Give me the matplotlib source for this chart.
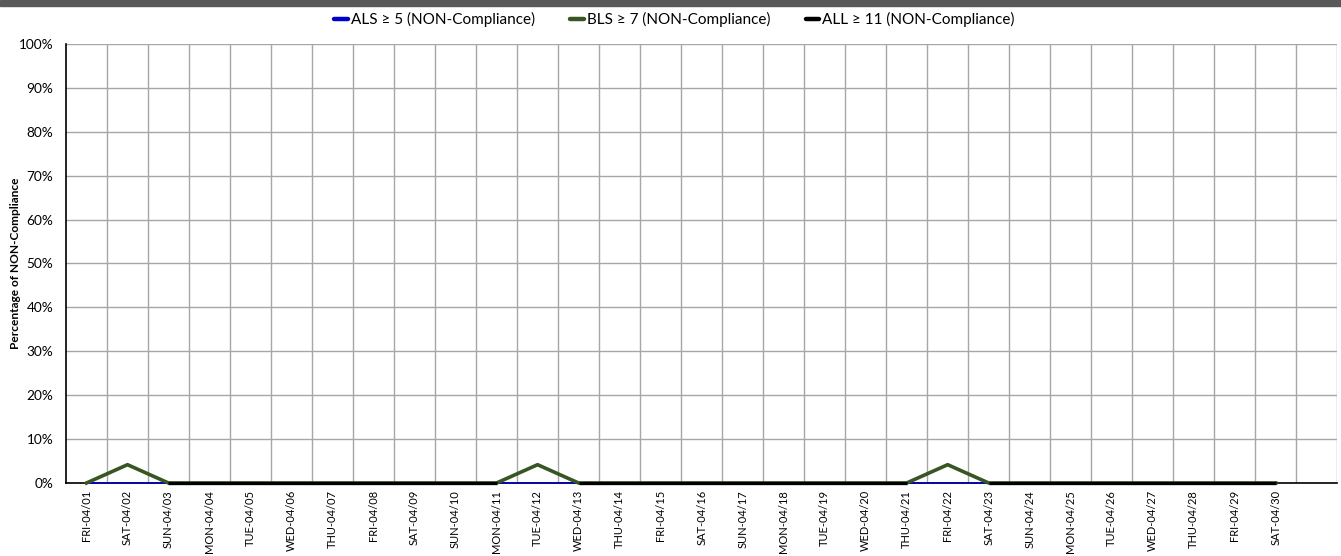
import numpy as np
import matplotlib.pyplot as plt
from matplotlib.lines import Line2D
from matplotlib.ticker import PercentFormatter

plt.rcParams['font.family'] = ['Lato', 'DejaVu Sans']

## chart data

days = ['FRI-04/01', 'SAT-04/02', 'SUN-04/03', 'MON-04/04', 'TUE-04/05', 'WED-04/06',
        'THU-04/07', 'FRI-04/08', 'SAT-04/09', 'SUN-04/10', 'MON-04/11', 'TUE-04/12',
        'WED-04/13', 'THU-04/14', 'FRI-04/15', 'SAT-04/16', 'SUN-04/17', 'MON-04/18',
        'TUE-04/19', 'WED-04/20', 'THU-04/21', 'FRI-04/22', 'SAT-04/23', 'SUN-04/24',
        'MON-04/25', 'TUE-04/26', 'WED-04/27', 'THU-04/28', 'FRI-04/29', 'SAT-04/30']

als = [0] * 30

bls = [0, 4.17, 0, 0, 0, 0, 0, 0, 0, 0,
       0, 4.17, 0, 0, 0, 0, 0, 0, 0, 0,
       0, 4.17, 0, 0, 0, 0, 0, 0, 0, 0]

nan = np.nan
all_ = [0, nan, 0, 0, 0, 0, 0, 0, 0, 0,
        0, nan, 0, 0, 0, 0, 0, 0, 0, 0,
        0, nan, 0, 0, 0, 0, 0, 0, 0, 0]

legend_names = ['ALS \u2265 5 (NON-Compliance)', 'BLS \u2265 7 (NON-Compliance)',
                'ALL \u2265 11 (NON-Compliance)']
colors = ['#0000CC', '#375623', 'black']

fig = plt.figure(figsize=(13.41, 5.56), dpi=100)
# dark strip along the top edge
fig.patches.append(plt.Rectangle((0, 0.989), 1, 0.011, transform=fig.transFigure,
                                 color='#595959', zorder=0))

ax = fig.add_axes([0.0492, 0.1313, 0.948, 0.7896])

x = np.arange(len(days))
ax.plot(x, als, color=colors[0], lw=1.1, zorder=7, clip_on=False)
ax.plot(x, bls, color=colors[1], lw=2.6, zorder=8, clip_on=False)
ax.plot(x, all_, color=colors[2], lw=2.4, zorder=9, solid_capstyle='butt', clip_on=False)

ax.set_xlim(-0.5, 30.5)
ax.set_ylim(0, 100)
ax.set_yticks(np.arange(0, 101, 10))
ax.yaxis.set_major_formatter(PercentFormatter(decimals=0))
ax.set_xticks(x)
ax.set_xticklabels(days, rotation=90)
ax.set_xticks(np.arange(0.5, 31, 1), minor=True)
ax.tick_params(axis='both', which='both', length=0)
ax.tick_params(axis='y', pad=9, labelsize=9.8)
ax.tick_params(axis='x', pad=5, labelsize=8)

ax.grid(True, axis='y', which='major', color='#A6A6A6', lw=1)
ax.grid(True, axis='x', which='minor', color='#A6A6A6', lw=1)
ax.set_axisbelow(True)

for s in ['top', 'right']:
    ax.spines[s].set_visible(False)
ax.spines['left'].set_linewidth(1.2)
ax.spines['bottom'].set_linewidth(1.2)
ax.spines['bottom'].set_zorder(6)

ax.set_ylabel('Percentage of NON-Compliance', fontsize=8.6, fontweight='bold')
ax.yaxis.set_label_coords(-0.035, 0.5)

handles = [Line2D([], [], color=c, lw=3.2, solid_capstyle='round') for c in colors]
fig.legend(handles, legend_names, loc='center', bbox_to_anchor=(0.503, 0.965),
           ncol=3, frameon=False, fontsize=11, handlelength=0.9, handletextpad=0.2,
           columnspacing=2.3)

fig.savefig('out.png', dpi=100)
